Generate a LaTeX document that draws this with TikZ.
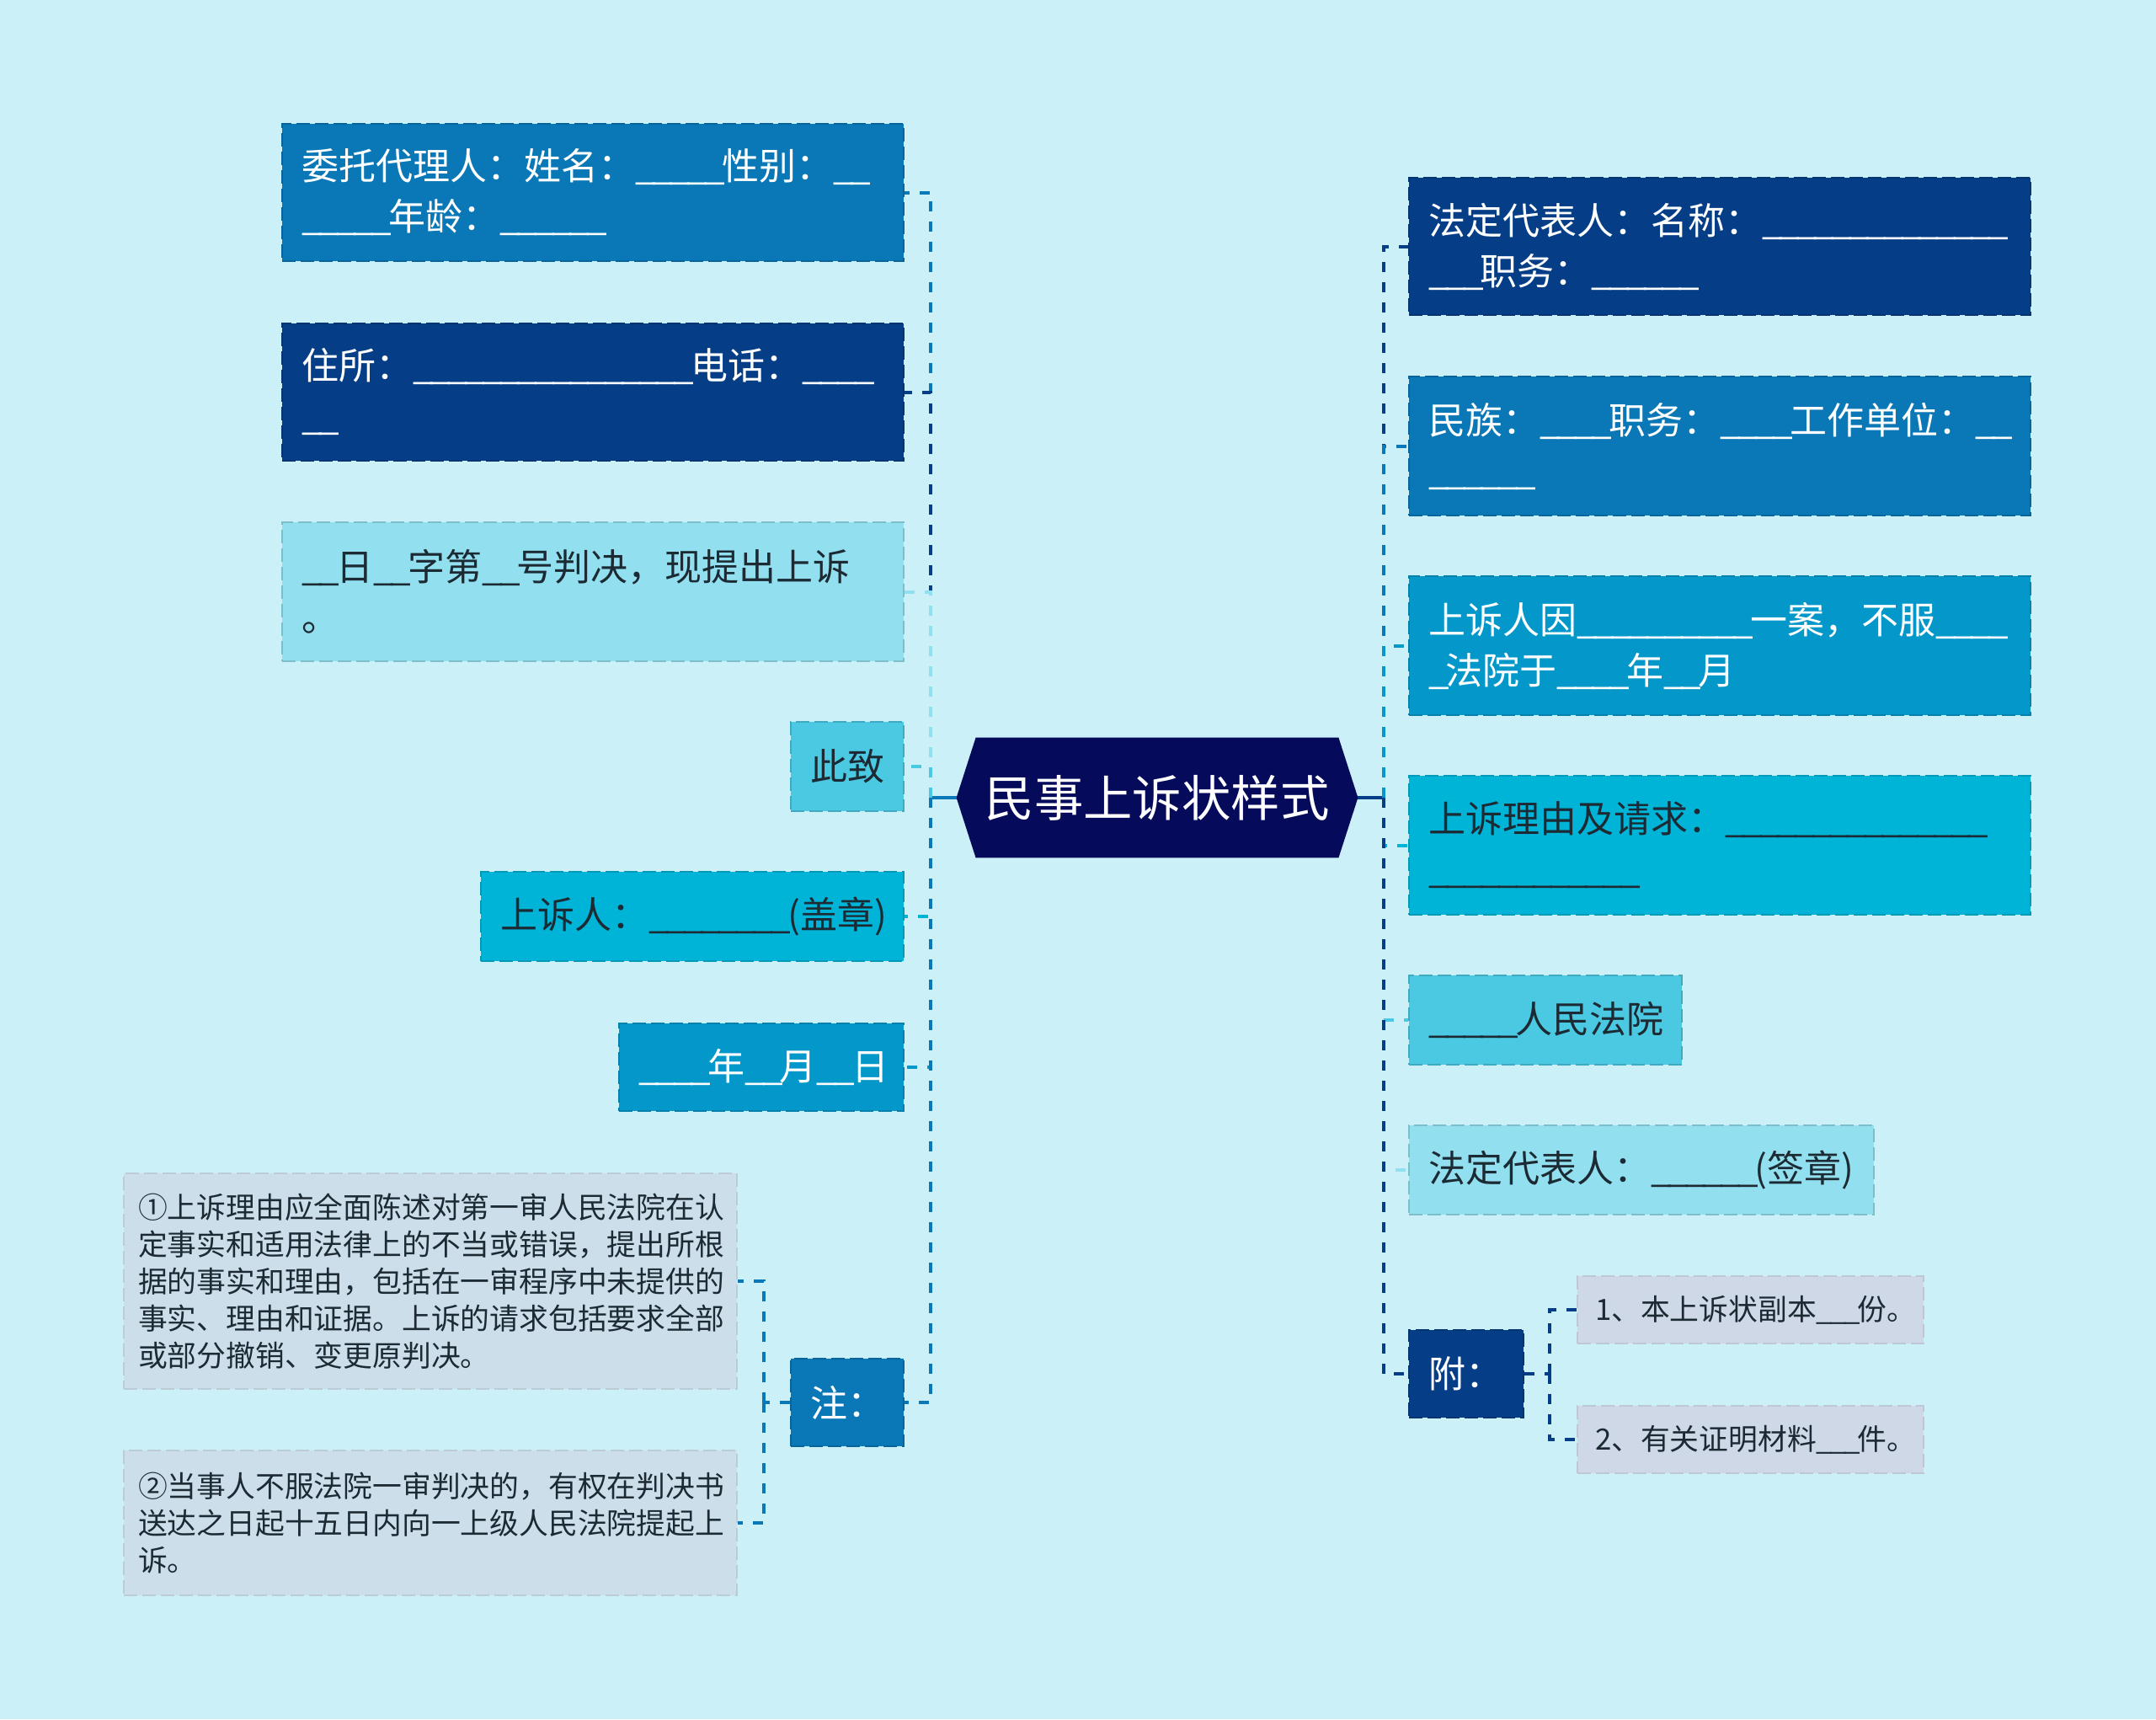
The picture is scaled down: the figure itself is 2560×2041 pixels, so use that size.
\documentclass[tikz,border=0pt]{standalone}
\usepackage{fontspec}
\newfontfamily\cjk{Noto Sans CJK SC}
\ExplSyntaxOn
\NewDocumentCommand\blanks{m}{\prg_replicate:nn{#1}{\textunderscore\kern-0.09em}}
\ExplSyntaxOff
\definecolor{bg}{HTML}{CBF0F7}
\definecolor{cmid}{HTML}{0A77B6}
\definecolor{cdark}{HTML}{053E86}
\definecolor{cblue}{HTML}{0497C9}
\definecolor{ccyan}{HTML}{00B4D8}
\definecolor{clight}{HTML}{4BC9E2}
\definecolor{cpale}{HTML}{92DFEF}
\definecolor{cnote}{HTML}{CCDEEA}
\definecolor{catt}{HTML}{CED8E7}
\definecolor{croot}{HTML}{050A5A}
\definecolor{tdark}{HTML}{1C2A33}
\tikzset{
  box/.style={rectangle, inner xsep=11.5pt, inner ysep=0pt, align=left,
    font=\cjk\fontsize{22}{30}\selectfont, line width=1pt, dash pattern=on 8pt off 3pt},
  boxc/.style={fill=#1, draw=#1!85!black},
  wt/.style={text=white},
  dk/.style={text=tdark},
  notebox/.style={rectangle, inner xsep=8.5pt, inner ysep=0pt, align=left,
    font=\cjk\fontsize{17.4}{22}\selectfont, line width=1pt, dash pattern=on 8pt off 3pt,
    fill=cnote, draw=cnote!92!black, text=tdark, text width=347pt},
  attbox/.style={rectangle, inner xsep=10.5pt, inner ysep=0pt, align=left,
    font=\cjk\fontsize{17.4}{22}\selectfont, line width=1pt, dash pattern=on 8pt off 3pt,
    fill=catt, draw=catt!92!black, text=tdark, text width=184.5pt, minimum height=40pt},
  conn/.style={line width=2pt, dash pattern=on 6pt off 6pt},
}
\begin{document}
\begin{tikzpicture}[x=0.5pt,y=-0.5pt]
\fill[bg] (0,0) rectangle (2560,2041);
\useasboundingbox (0,0) rectangle (2560,2041);

% root
\node[minimum width=238pt, minimum height=71pt, inner sep=0pt] (root) at (1374,947) {};
\fill[croot] (root.west) -- ([xshift=11.5pt]root.north west) -- ([xshift=-11.5pt]root.north east)
  -- (root.east) -- ([xshift=-11.5pt]root.south east) -- ([xshift=11.5pt]root.south west) -- cycle;
\node[font=\cjk\fontsize{29.2}{34}\selectfont, text=white, inner sep=0pt] (title) at (root.center) {民事上诉状样式};

% left side
\node[box, boxc=cmid, wt, text width=346pt, minimum height=81.5pt] (a1) at (704,228.5)
  {委托代理人：姓名：\blanks{5}性别：\blanks{2}\\\blanks{5}年龄：\blanks{6}};
\node[box, boxc=cdark, wt, text width=346pt, minimum height=81.5pt] (a2) at (704,465.5)
  {住所：\blanks{16}电话：\blanks{4}\\\blanks{2}};
\node[box, boxc=cpale, dk, text width=346pt, minimum height=82.5pt] (a3) at (704,702.5)
  {\blanks{2}日\blanks{2}字第\blanks{2}号判决，现提出上诉\\。};
\node[box, boxc=clight, dk, text width=44pt, minimum height=53pt] (a4) at (1006,910) {此致};
\node[box, boxc=ccyan, dk, text width=228pt, minimum height=53pt] (a5) at (822,1088)
  {上诉人：\blanks{8}(盖章)};
\node[box, boxc=cblue, wt, text width=146pt, minimum height=52pt] (a6) at (904,1267)
  {\blanks{4}年\blanks{2}月\blanks{2}日};
\node[box, boxc=cmid, wt, text width=44pt, minimum height=52pt] (a7) at (1006,1665) {注：};
\node[notebox, minimum height=128pt] (n1) at (511,1521)
  {①上诉理由应全面陈述对第一审人民法院在认\\定事实和适用法律上的不当或错误，提出所根\\据的事实和理由，包括在一审程序中未提供的\\事实、理由和证据。上诉的请求包括要求全部\\或部分撤销、变更原判决。};
\node[notebox, minimum height=86pt] (n2) at (511,1808)
  {②当事人不服法院一审判决的，有权在判决书\\送达之日起十五日内向一上级人民法院提起上\\诉。};

% right side
\node[box, boxc=cdark, wt, text width=346pt, minimum height=81.5pt] (b1) at (2042,292.5)
  {法定代表人：名称：\blanks{14}\\\blanks{3}职务：\blanks{6}};
\node[box, boxc=cmid, wt, text width=346pt, minimum height=82.5pt] (b2) at (2042,529.5)
  {民族：\blanks{4}职务：\blanks{4}工作单位：\blanks{2}\\\blanks{6}};
\node[box, boxc=cblue, wt, text width=346pt, minimum height=82.5pt] (b3) at (2042,766.5)
  {上诉人因\blanks{10}一案，不服\blanks{4}\\\blanks{1}法院于\blanks{4}年\blanks{2}月};
\node[box, boxc=ccyan, dk, text width=346pt, minimum height=82.5pt] (b4) at (2042,1003.5)
  {上诉理由及请求：\blanks{15}\\\blanks{12}};
\node[box, boxc=clight, dk, text width=139pt, minimum height=53pt] (b5) at (1835,1211)
  {\blanks{5}人民法院};
\node[box, boxc=cpale, dk, text width=253pt, minimum height=53pt] (b6) at (1949,1389)
  {法定代表人：\blanks{6}(签章)};
\node[box, boxc=cdark, wt, text width=45pt, minimum height=52pt] (b7) at (1741,1631) {附：};
\node[attbox] (c1) at (2078.5,1555) {1、本上诉状副本\blanks{3}份。};
\node[attbox] (c2) at (2078.5,1709) {2、有关证明材料\blanks{3}件。};

% connectors
\coordinate (tl) at (1105,947);
\coordinate (tr) at (1643,947);
\draw[line width=2pt, cmid] (root.west) -- (tl);
\draw[line width=2pt, cdark] (root.east) -- (tr);
\draw[conn, cmid] (tl) |- (a1.east);
\draw[conn, cdark] (tl) |- (a2.east);
\draw[conn, cpale] (tl) |- (a3.east);
\draw[conn, clight] (tl) |- (a4.east);
\draw[conn, ccyan] (tl) |- (a5.east);
\draw[conn, cblue] (tl) |- (a6.east);
\draw[conn, cmid] (tl) |- (a7.east);
\draw[conn, cdark] (tr) |- (b1.west);
\draw[conn, cmid] (tr) |- (b2.west);
\draw[conn, cblue] (tr) |- (b3.west);
\draw[conn, ccyan] (tr) |- (b4.west);
\draw[conn, clight] (tr) |- (b5.west);
\draw[conn, cpale] (tr) |- (b6.west);
\draw[conn, cdark] (tr) |- (b7.west);

\coordinate (tn) at (907,1665);
\draw[conn, cmid] (a7.west) -- (tn);
\draw[conn, cmid] (tn) |- (n1.east);
\draw[conn, cmid] (tn) |- (n2.east);
\coordinate (tf) at (1840,1631);
\draw[conn, cdark] (b7.east) -- (tf);
\draw[conn, cdark] (tf) |- (c1.west);
\draw[conn, cdark] (tf) |- (c2.west);
\end{tikzpicture}
\end{document}
